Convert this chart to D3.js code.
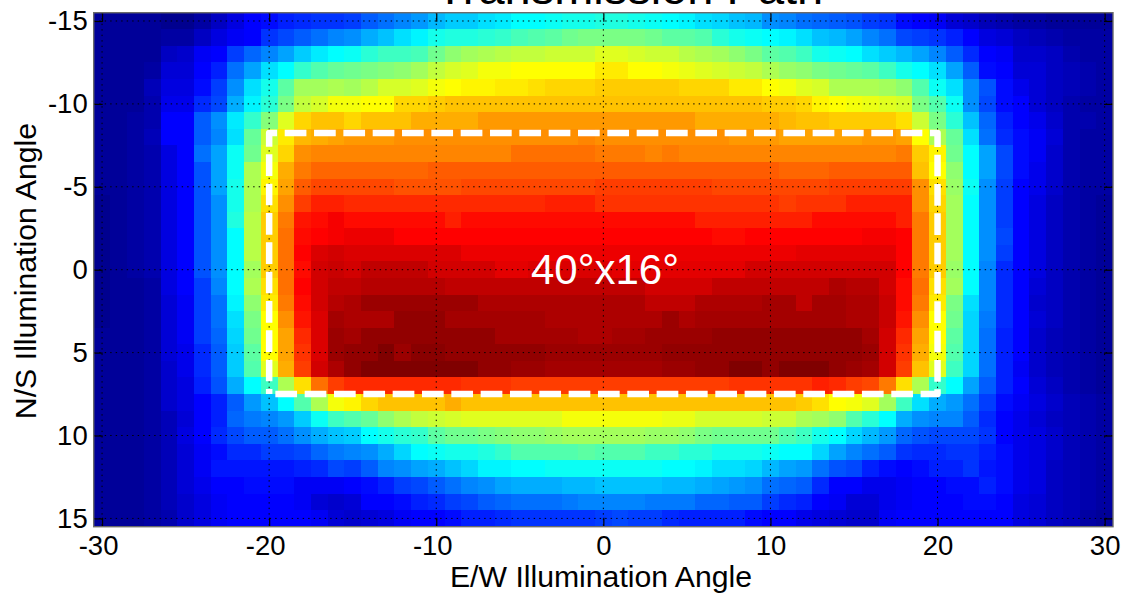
<!DOCTYPE html>
<html>
<head>
<meta charset="utf-8">
<script src="https://cdn.jsdelivr.net/npm/d3@7"></script>
<style>
html,body{margin:0;padding:0;background:#fff;overflow:hidden}
svg{display:block}
text{font-family:"Liberation Sans",Arial,sans-serif;fill:#000}
</style>
</head>
<body>
<svg id="chart" width="1122" height="594"></svg>
<script>
const titleText = "Transmission Path";
const xLabel = "E/W Illumination Angle";
const yLabel = "N/S Illumination Angle";
const noteText = "40°x16°";
const xTicks = [-30,-20,-10,0,10,20,30];
const yTicks = [-15,-10,-5,0,5,10,15];
const eastWest = d3.range(-30,31);
const northSouth = d3.range(-15,16);
const fieldX = [-20,20];
const fieldY = [-8.25,7.5];
const jetStops = [0,11,36,61,86,100];
const jetColors = ["#00008f","#0000ff","#00ffff","#ffff00","#ff0000","#800000"];
// one row per N/S angle, one value per E/W angle (relative transmission, percent of colour range)
const transmission = [
[1,1,1,1,0,0,2,5,8,11,12,14,15,16,16, 17,20,22,24,26,29,31,31,33,34,36,36,37,38,38, 39, 39,38,37,36,35,33,32,30,29,25,24,22,21,20,19, 17,16,12,11,10,7,6,4,3,2,2,1,1,1,1],
[1,1,1,1,2,2,5,8,10,11,16,18,20,22,24, 25,28,30,33,35,38,39,39,40,41,43,44,45,47,48, 48, 48,48,47,45,45,44,40,38,37,36,35,33,30,29,27, 24,22,18,17,16,14,11,8,7,5,4,3,2,2,2],
[1,1,1,1,5,6,10,11,17,21,24,27,31,34,36, 37,40,42,42,43,47,50,52,53,54,55,55,56,56,56, 58, 58,57,56,56,54,53,52,50,48,45,44,42,38,37,36, 33,31,29,27,24,20,15,11,10,6,6,5,3,2,2],
[1,1,1,2,7,7,11,14,22,27,33,36,41,44,46, 47,48,49,50,52,55,57,58,60,60,61,61,61,61,61, 63, 63,61,61,60,59,58,57,56,55,53,51,50,48,47,46, 45,42,38,36,33,27,20,12,11,7,7,5,4,3,2],
[1,1,1,4,8,8,12,17,25,33,38,45,52,52,53, 52,54,57,57,58,60,61,62,62,63,63,64,65,65,65, 66, 66,66,66,66,65,65,65,63,63,61,60,58,57,53,53, 53,52,50,44,37,33,25,19,12,9,7,5,4,3,2],
[1,1,1,3,9,9,15,18,28,35,40,48,55,57,60, 60,61,61,65,65,66,67,67,67,67,67,67,67,67,67, 67, 67,67,67,67,67,67,67,67,67,66,66,65,62,61,60, 59,58,57,48,44,37,25,18,12,11,7,5,3,2,2],
[1,1,2,3,11,11,20,25,34,41,49,58,65,67,67, 65,67,67,67,69,69,69,69,71,71,71,71,71,71,71, 71, 71,71,71,71,71,69,69,69,69,69,68,67,67,66,66, 66,66,64,56,48,40,30,21,14,11,9,6,3,3,2],
[1,1,2,4,11,11,20,24,33,46,56,63,68,69,70, 71,71,71,72,72,72,72,72,72,72,72,72,72,72,73, 72, 72,72,72,72,72,72,72,71,71,71,70,70,70,70,70, 71,71,70,61,53,46,33,22,15,12,10,7,3,2,2],
[1,1,2,3,8,11,22,27,37,47,58,65,72,73,73, 73,73,73,73,73,73,73,73,73,73,75,75,75,75,75, 74, 74,74,73,74,73,73,73,73,73,73,73,73,73,73,73, 73,73,74,66,62,47,36,27,18,12,10,6,3,2,2],
[1,1,2,3,8,11,19,27,37,53,60,69,74,76,76, 76,76,76,76,76,77,77,77,77,77,77,77,77,77,77, 77, 77,77,77,77,77,77,77,77,77,77,76,76,76,77,77, 77,77,77,67,61,50,36,27,18,12,9,6,3,2,2],
[1,1,2,3,8,11,19,27,38,53,62,70,77,79,79, 79,79,79,78,78,78,78,79,79,79,79,79,79,79,79, 80, 80,80,80,80,80,80,79,79,79,79,79,79,79,80,80, 80,80,80,72,64,51,37,25,17,11,9,6,3,2,2],
[0,1,2,3,8,11,19,25,38,53,64,72,80,83,83, 82,82,82,82,82,82,82,82,82,82,82,82,83,83,83, 81, 81,81,81,81,81,81,81,81,81,81,80,81,81,81,83, 83,83,83,72,65,52,36,25,17,11,8,5,3,2,1],
[0,1,2,3,8,11,19,25,39,54,66,74,84,85,87, 85,85,85,85,85,85,83,85,85,85,85,85,85,85,85, 85, 85,85,85,85,85,83,83,83,83,83,83,83,85,85,85, 85,85,83,74,66,52,36,25,17,11,8,5,3,2,1],
[0,1,2,3,8,11,19,25,36,54,66,75,85,86,87, 88,88,88,86,86,86,86,86,86,86,86,86,86,86,86, 86, 86,86,86,86,86,86,85,85,86,86,86,86,86,86,86, 87,87,86,74,66,52,36,25,18,11,8,5,3,2,1],
[0,1,2,3,8,11,19,25,36,54,66,75,86,90,91, 90,90,90,90,90,90,90,88,88,88,88,88,88,88,88, 88, 88,88,88,88,88,88,88,88,88,88,88,89,89,89,89, 89,89,86,74,66,52,36,25,17,11,8,5,3,2,1],
[0,1,2,3,8,11,19,25,36,52,66,75,85,91,92, 91,93,93,93,93,91,91,91,91,89,89,90,90,90,90, 90, 89,89,89,89,89,89,89,89,91,91,91,91,91,91,91, 91,91,86,74,66,51,36,24,15,11,8,5,3,2,1],
[0,1,1,2,8,11,17,24,36,53,64,75,86,91,93, 93,94,94,94,94,94,93,93,93,93,93,93,93,93,93, 93, 93,93,91,91,91,91,93,93,93,93,93,93,93,95,94, 94,91,85,75,64,52,36,24,15,11,7,5,3,2,1],
[0,1,1,2,7,10,17,22,35,50,63,74,85,91,94, 95,97,97,97,97,97,97,97,95,95,95,95,95,95,95, 95, 95,95,93,93,93,95,95,95,95,96,96,93,96,96,95, 95,92,85,74,63,48,33,24,15,11,6,5,3,2,1],
[0,1,1,2,7,10,17,22,33,48,61,72,84,90,96, 95,95,95,98,98,98,96,96,96,96,96,96,95,95,95, 95, 95,95,95,97,95,96,96,96,96,96,96,96,96,96,95, 95,92,84,72,61,47,32,23,15,11,7,5,3,2,1],
[1,1,1,2,7,10,17,21,32,47,61,70,82,90,97, 96,98,98,98,98,98,98,98,98,96,96,96,96,96,95, 95, 96,96,97,97,97,97,98,98,98,98,98,98,98,98,98, 96,91,82,70,61,45,32,22,14,11,6,4,3,2,1],
[1,1,1,2,7,9,15,20,31,45,61,70,81,90,97, 98,98,100,97,99,99,98,98,98,98,98,98,97,97,97, 97, 97,97,97,98,98,98,98,98,98,98,98,98,98,98,98, 97,91,81,69,60,44,32,22,14,11,6,4,3,2,1],
[1,1,1,2,6,9,15,20,31,44,58,69,80,91,95, 98,100,100,100,100,100,100,100,98,98,97,97,96,96,96, 96, 96,96,96,97,97,98,98,100,100,98,100,100,100,98,97, 96,91,80,67,58,42,32,22,14,10,6,4,3,2,1],
[1,1,1,2,6,8,14,19,28,36,42,53,64,75,80, 82,82,82,82,82,82,82,81,81,81,80,80,80,80,80, 80, 80,80,80,80,80,80,80,81,81,81,81,81,83,82,80, 79,74,64,53,41,36,27,20,14,11,7,5,3,2,1],
[1,1,1,2,6,8,11,14,20,26,30,36,44,53,60, 62,65,67,67,67,67,69,67,67,67,67,67,67,67,67, 67, 67,67,67,67,67,67,67,67,67,67,67,66,64,61,60, 58,52,42,33,28,26,22,17,12,10,8,6,4,3,2],
[1,1,1,2,4,7,11,14,21,23,24,26,31,37,42, 44,46,50,53,55,56,57,58,58,58,58,58,58,60,60, 60, 60,60,60,59,59,57,57,57,57,56,56,53,52,50,44, 40,36,28,25,24,24,20,15,11,9,7,5,4,3,2],
[1,1,1,2,4,8,11,15,18,20,20,22,25,28,30, 31,36,38,40,41,45,47,47,48,49,50,50,51,52,52, 52, 52,52,51,51,50,48,47,47,47,47,44,42,38,36,32, 29,26,21,19,18,18,18,16,11,9,8,6,4,3,2],
[1,1,1,2,4,7,10,12,15,15,17,17,18,21,23, 24,25,28,32,36,37,38,38,39,41,44,44,44,44,45, 44, 44,44,42,42,40,40,38,38,38,37,36,36,32,27,24, 22,20,16,15,15,16,16,14,12,9,8,6,4,3,2],
[1,1,1,2,4,7,10,13,13,13,13,13,14,15,18, 17,20,24,25,27,28,30,32,35,35,36,36,37,37,37, 37, 37,37,37,36,36,35,33,33,32,29,27,26,22,19,18, 14,12,11,12,14,14,16,13,12,9,8,5,4,3,2],
[1,1,1,2,4,7,9,11,11,12,12,12,10,10,10, 11,12,14,17,18,20,22,24,25,27,28,28,28,29,29, 30, 30,30,30,29,29,28,27,26,25,22,21,20,15,11,11, 9,9,10,11,11,12,12,14,12,9,8,5,4,3,2],
[1,1,1,2,4,6,8,10,11,11,11,11,10,7,6, 7,11,11,12,14,15,17,18,20,21,22,22,22,23,24, 24, 24,24,23,23,23,21,21,20,20,17,15,14,11,10,7, 7,9,10,11,11,11,12,12,11,8,7,5,4,3,2],
[1,1,1,2,3,6,8,10,11,11,11,11,11,10,7, 6,7,8,10,11,11,12,14,14,15,16,16,16,16,16, 17, 18,17,17,15,14,14,14,14,12,11,11,9,8,7,6, 6,10,11,11,11,11,11,11,11,8,7,5,4,2,1]
];

const plotLeft = 93.7, plotRight = 1113, plotTop = 12.7, plotBottom = 526.7;
const x = d3.scaleLinear().domain([-30.5,30.5]).range([plotLeft,plotRight]);
const y = d3.scaleLinear().domain([-15.5,15.5]).range([plotTop,plotBottom]);
const color = d3.scaleLinear().domain(jetStops).range(jetColors).interpolate(d3.interpolateRgb);

const svg = d3.select("#chart");

// heat map cells
const cells = svg.append("g").attr("shape-rendering","crispEdges");
transmission.forEach((row,r) => {
  cells.selectAll(null).data(row).enter().append("rect")
    .attr("x",(d,c)=>x(eastWest[c]-0.5))
    .attr("y",y(northSouth[r]-0.5))
    .attr("width",(d,c)=>x(eastWest[c]+0.5)-x(eastWest[c]-0.5)+(c<60?0.6:0))
    .attr("height",y(1)-y(0)+(r<30?0.6:0))
    .attr("fill",d=>color(d));
});

// dotted grid
const grid = svg.append("g").attr("fill","none").attr("stroke","#000").attr("stroke-width",1).attr("stroke-dasharray","1.4 4.1");
grid.selectAll("line.v").data(xTicks).enter().append("line").attr("class","v")
  .attr("x1",d=>x(d)).attr("x2",d=>x(d)).attr("y1",plotTop).attr("y2",plotBottom);
grid.selectAll("line.h").data(yTicks).enter().append("line").attr("class","h")
  .attr("x1",plotLeft).attr("x2",plotRight).attr("y1",d=>y(d)).attr("y2",d=>y(d));

// white dashed field outline (starts bottom-left, runs clockwise)
const outline = d3.line().x(d=>x(d[0])).y(d=>y(d[1]));
svg.append("path")
  .datum([[fieldX[0],fieldY[1]],[fieldX[0],fieldY[0]],[fieldX[1],fieldY[0]],[fieldX[1],fieldY[1]],[fieldX[0],fieldY[1]]])
  .attr("d",outline)
  .attr("fill","none").attr("stroke","#fff").attr("stroke-width",6.5)
  .attr("stroke-linejoin","round")
  .attr("stroke-dasharray","21.7 7.63").attr("stroke-dashoffset",16.6);

// axes
const TICK = 9, fs = 27.5;
function style(g){
  g.select(".domain").remove();
  g.selectAll(".tick line").attr("stroke","#000").attr("stroke-width",1.2);
  g.selectAll("text").attr("fill","#000").style("font-size",fs+"px").style("font-family",'"Liberation Sans",Arial,sans-serif');
}
svg.append("g").attr("transform",`translate(0,${plotBottom})`)
  .call(d3.axisBottom(x).tickValues(xTicks).tickSizeInner(-TICK).tickSizeOuter(0).tickPadding(9).tickFormat(d=>String(d))).call(style)
  .selectAll("text").attr("dx",d=>d<0?-4:0);
svg.append("g").attr("transform",`translate(0,${plotTop})`)
  .call(d3.axisTop(x).tickValues(xTicks).tickSizeInner(-TICK).tickSizeOuter(0).tickFormat("")).call(style);
svg.append("g").attr("transform",`translate(${plotLeft},0)`)
  .call(d3.axisLeft(y).tickValues(yTicks).tickSizeInner(-TICK).tickSizeOuter(0).tickPadding(6).tickFormat(d=>String(d))).call(style);
svg.append("g").attr("transform",`translate(${plotRight},0)`)
  .call(d3.axisRight(y).tickValues(yTicks).tickSizeInner(-TICK).tickSizeOuter(0).tickFormat("")).call(style);

svg.append("rect").attr("x",plotLeft).attr("y",plotTop).attr("width",plotRight-plotLeft).attr("height",plotBottom-plotTop)
  .attr("fill","none").attr("stroke","#6a6a6a").attr("stroke-width",1.4);

// labels
svg.append("text").attr("x",629.5).attr("y",4).attr("text-anchor","middle").style("font-size","47px").text(titleText);
svg.append("text").attr("x",601).attr("y",587).attr("text-anchor","middle").style("font-size","30.2px").text(xLabel);
svg.append("text").attr("transform","translate(36,271) rotate(-90)").attr("text-anchor","middle").style("font-size","30.3px").text(yLabel);
svg.append("text").attr("x",605).attr("y",284).attr("text-anchor","middle").style("font-size","42px").style("fill","#fff").text(noteText);
</script>
</body>
</html>
